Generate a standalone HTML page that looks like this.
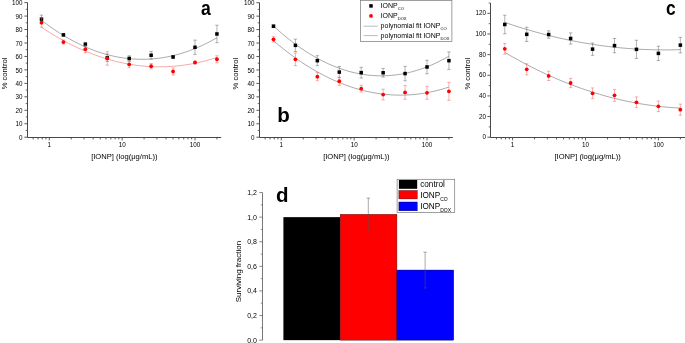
<!DOCTYPE html>
<html><head><meta charset="utf-8"><title>figure</title>
<style>
html,body{margin:0;padding:0;background:#fff;}
svg{display:block;will-change:transform;-webkit-font-smoothing:antialiased}
text{font-family:"Liberation Sans",sans-serif;fill:#000}
.t{font-size:6.3px}
.t7{font-size:7px}
.a{font-size:7.6px}
.d{font-size:8px}
.g{font-size:7px}
.s{font-size:4.1px}
.e{font-size:8.2px}
.s2{font-size:5px}
.L{font-size:20.5px;font-weight:bold;fill:#000}
</style></head><body>
<svg width="685" height="343" viewBox="0 0 685 343">
<rect width="685" height="343" fill="#fff"/>
<path d="M27.50 2.60V137.50H221.20" fill="none" stroke="#484848" stroke-width="1"/>
<path d="M27.50 137.20h-3.1M27.50 123.74h-3.1M27.50 110.28h-3.1M27.50 96.82h-3.1M27.50 83.36h-3.1M27.50 69.90h-3.1M27.50 56.44h-3.1M27.50 42.98h-3.1M27.50 29.52h-3.1M27.50 16.06h-3.1M27.50 2.60h-3.1" stroke="#484848" stroke-width="0.9" fill="none"/>
<path d="M27.50 130.47h-1.8M27.50 117.01h-1.8M27.50 103.55h-1.8M27.50 90.09h-1.8M27.50 76.63h-1.8M27.50 63.17h-1.8M27.50 49.71h-1.8M27.50 36.25h-1.8M27.50 22.79h-1.8M27.50 9.33h-1.8" stroke="#484848" stroke-width="0.8" fill="none"/>
<text x="22.40" y="139.80" text-anchor="end" class="t">0</text>
<text x="22.40" y="126.34" text-anchor="end" class="t">10</text>
<text x="22.40" y="112.88" text-anchor="end" class="t">20</text>
<text x="22.40" y="99.42" text-anchor="end" class="t">30</text>
<text x="22.40" y="85.96" text-anchor="end" class="t">40</text>
<text x="22.40" y="72.50" text-anchor="end" class="t">50</text>
<text x="22.40" y="59.04" text-anchor="end" class="t">60</text>
<text x="22.40" y="45.58" text-anchor="end" class="t">70</text>
<text x="22.40" y="32.12" text-anchor="end" class="t">80</text>
<text x="22.40" y="18.66" text-anchor="end" class="t">90</text>
<text x="22.40" y="5.20" text-anchor="end" class="t">100</text>
<path d="M49.30 137.20v3.2M122.15 137.20v3.2M195.00 137.20v3.2" stroke="#484848" stroke-width="0.9" fill="none"/>
<path d="M33.14 137.20v2.2M38.02 137.20v2.2M42.24 137.20v2.2M45.97 137.20v2.2M71.23 137.20v2.2M84.06 137.20v2.2M93.16 137.20v2.2M100.22 137.20v2.2M105.99 137.20v2.2M110.87 137.20v2.2M115.09 137.20v2.2M118.82 137.20v2.2M144.08 137.20v2.2M156.91 137.20v2.2M166.01 137.20v2.2M173.07 137.20v2.2M178.84 137.20v2.2M183.72 137.20v2.2M187.94 137.20v2.2M191.67 137.20v2.2M216.93 137.20v2.2" stroke="#484848" stroke-width="0.9" fill="none"/>
<text x="49.30" y="146.90" text-anchor="middle" class="t">1</text>
<text x="122.15" y="146.90" text-anchor="middle" class="t">10</text>
<text x="195.00" y="146.90" text-anchor="middle" class="t">100</text>
<text x="124.35" y="159.20" text-anchor="middle" class="a">[IONP] (log(μg/mL))</text>
<text transform="translate(7.40 73.50) rotate(-90)" text-anchor="middle" class="a">% control</text>
<polyline points="41.49,20.24 45.99,23.66 50.49,26.92 54.99,30.02 59.48,32.97 63.98,35.76 68.48,38.39 72.98,40.87 77.48,43.20 81.98,45.36 86.47,47.37 90.97,49.23 95.47,50.93 99.97,52.47 104.47,53.85 108.97,55.08 113.47,56.16 117.96,57.08 122.46,57.84 126.96,58.44 131.46,58.89 135.96,59.18 140.46,59.32 144.95,59.30 149.45,59.13 153.95,58.79 158.45,58.31 162.95,57.66 167.45,56.86 171.95,55.91 176.44,54.79 180.94,53.53 185.44,52.10 189.94,50.52 194.44,48.78 198.94,46.89 203.43,44.84 207.93,42.64 212.43,40.27 216.93,37.76" fill="none" stroke="#444" stroke-width="0.45"/>
<polyline points="41.49,27.23 45.99,30.19 50.49,33.03 54.99,35.76 59.48,38.37 63.98,40.87 68.48,43.26 72.98,45.53 77.48,47.68 81.98,49.72 86.47,51.65 90.97,53.46 95.47,55.15 99.97,56.73 104.47,58.20 108.97,59.55 113.47,60.78 117.96,61.90 122.46,62.91 126.96,63.80 131.46,64.57 135.96,65.23 140.46,65.78 144.95,66.21 149.45,66.52 153.95,66.72 158.45,66.81 162.95,66.78 167.45,66.64 171.95,66.38 176.44,66.00 180.94,65.52 185.44,64.91 189.94,64.19 194.44,63.36 198.94,62.41 203.43,61.35 207.93,60.17 212.43,58.88 216.93,57.47" fill="none" stroke="#f04040" stroke-width="0.45"/>
<path d="M41.49 15.12V23.19M39.79 15.12h3.4M39.79 23.19h3.4M63.42 33.83V35.98M61.72 33.83h3.4M61.72 35.98h3.4M85.35 42.31V46.34M83.65 42.31h3.4M83.65 46.34h3.4M107.28 54.15V61.42M105.58 54.15h3.4M105.58 61.42h3.4M129.21 55.77V61.15M127.51 55.77h3.4M127.51 61.15h3.4M151.14 51.46V59.00M149.44 51.46h3.4M149.44 59.00h3.4M173.07 55.63V58.32M171.37 55.63h3.4M171.37 58.32h3.4M195.00 40.15V54.42M193.30 40.15h3.4M193.30 54.42h3.4M216.93 25.21V42.71M215.23 25.21h3.4M215.23 42.71h3.4" stroke="#555" stroke-width="0.45" fill="none"/>
<rect x="39.74" y="17.41" width="3.5" height="3.5" fill="#000"/>
<rect x="61.67" y="33.15" width="3.5" height="3.5" fill="#000"/>
<rect x="83.60" y="42.58" width="3.5" height="3.5" fill="#000"/>
<rect x="105.53" y="56.04" width="3.5" height="3.5" fill="#000"/>
<rect x="127.46" y="56.71" width="3.5" height="3.5" fill="#000"/>
<rect x="149.39" y="53.48" width="3.5" height="3.5" fill="#000"/>
<rect x="171.32" y="55.23" width="3.5" height="3.5" fill="#000"/>
<rect x="193.25" y="45.54" width="3.5" height="3.5" fill="#000"/>
<rect x="215.18" y="32.21" width="3.5" height="3.5" fill="#000"/>
<path d="M41.49 18.08V27.23M39.79 18.08h3.4M39.79 27.23h3.4M63.42 40.02V44.06M61.72 40.02h3.4M61.72 44.06h3.4M85.35 45.54V52.81M83.65 45.54h3.4M83.65 52.81h3.4M107.28 51.73V65.19M105.58 51.73h3.4M105.58 65.19h3.4M129.21 61.02V67.75M127.51 61.02h3.4M127.51 67.75h3.4M151.14 63.57V68.96M149.44 63.57h3.4M149.44 68.96h3.4M173.07 68.02V75.01M171.37 68.02h3.4M171.37 75.01h3.4M195.00 61.15V63.84M193.30 61.15h3.4M193.30 63.84h3.4M216.93 55.77V62.77M215.23 55.77h3.4M215.23 62.77h3.4" stroke="#f05050" stroke-width="0.45" fill="none"/>
<circle cx="41.49" cy="22.66" r="1.9" fill="#ff0000"/>
<circle cx="63.42" cy="42.04" r="1.9" fill="#ff0000"/>
<circle cx="85.35" cy="49.17" r="1.9" fill="#ff0000"/>
<circle cx="107.28" cy="58.46" r="1.9" fill="#ff0000"/>
<circle cx="129.21" cy="64.38" r="1.9" fill="#ff0000"/>
<circle cx="151.14" cy="66.27" r="1.9" fill="#ff0000"/>
<circle cx="173.07" cy="71.52" r="1.9" fill="#ff0000"/>
<circle cx="195.00" cy="62.50" r="1.9" fill="#ff0000"/>
<circle cx="216.93" cy="59.27" r="1.9" fill="#ff0000"/>
<path d="M259.50 2.70V137.50H452.90" fill="none" stroke="#484848" stroke-width="1"/>
<path d="M259.50 137.20h-3.1M259.50 123.75h-3.1M259.50 110.30h-3.1M259.50 96.85h-3.1M259.50 83.40h-3.1M259.50 69.95h-3.1M259.50 56.50h-3.1M259.50 43.05h-3.1M259.50 29.60h-3.1M259.50 16.15h-3.1M259.50 2.70h-3.1" stroke="#484848" stroke-width="0.9" fill="none"/>
<path d="M259.50 130.47h-1.8M259.50 117.02h-1.8M259.50 103.57h-1.8M259.50 90.12h-1.8M259.50 76.67h-1.8M259.50 63.22h-1.8M259.50 49.77h-1.8M259.50 36.32h-1.8M259.50 22.87h-1.8M259.50 9.42h-1.8" stroke="#484848" stroke-width="0.8" fill="none"/>
<text x="254.40" y="139.80" text-anchor="end" class="t">0</text>
<text x="254.40" y="126.35" text-anchor="end" class="t">10</text>
<text x="254.40" y="112.90" text-anchor="end" class="t">20</text>
<text x="254.40" y="99.45" text-anchor="end" class="t">30</text>
<text x="254.40" y="86.00" text-anchor="end" class="t">40</text>
<text x="254.40" y="72.55" text-anchor="end" class="t">50</text>
<text x="254.40" y="59.10" text-anchor="end" class="t">60</text>
<text x="254.40" y="45.65" text-anchor="end" class="t">70</text>
<text x="254.40" y="32.20" text-anchor="end" class="t">80</text>
<text x="254.40" y="18.75" text-anchor="end" class="t">90</text>
<text x="254.40" y="5.30" text-anchor="end" class="t">100</text>
<path d="M281.30 137.20v3.2M354.15 137.20v3.2M427.00 137.20v3.2" stroke="#484848" stroke-width="0.9" fill="none"/>
<path d="M265.14 137.20v2.2M270.02 137.20v2.2M274.24 137.20v2.2M277.97 137.20v2.2M303.23 137.20v2.2M316.06 137.20v2.2M325.16 137.20v2.2M332.22 137.20v2.2M337.99 137.20v2.2M342.87 137.20v2.2M347.09 137.20v2.2M350.82 137.20v2.2M376.08 137.20v2.2M388.91 137.20v2.2M398.01 137.20v2.2M405.07 137.20v2.2M410.84 137.20v2.2M415.72 137.20v2.2M419.94 137.20v2.2M423.67 137.20v2.2M448.93 137.20v2.2" stroke="#484848" stroke-width="0.9" fill="none"/>
<text x="281.30" y="146.90" text-anchor="middle" class="t">1</text>
<text x="354.15" y="146.90" text-anchor="middle" class="t">10</text>
<text x="427.00" y="146.90" text-anchor="middle" class="t">100</text>
<text x="356.35" y="159.20" text-anchor="middle" class="a">[IONP] (log(μg/mL))</text>
<text transform="translate(238.40 73.55) rotate(-90)" text-anchor="middle" class="a">% control</text>
<polyline points="273.49,26.01 277.99,30.08 282.49,33.98 286.99,37.71 291.48,41.26 295.98,44.64 300.48,47.84 304.98,50.87 309.48,53.73 313.98,56.41 318.47,58.92 322.97,61.26 327.47,63.42 331.97,65.41 336.47,67.22 340.97,68.87 345.47,70.33 349.96,71.63 354.46,72.75 358.96,73.70 363.46,74.47 367.96,75.07 372.46,75.49 376.95,75.75 381.45,75.82 385.95,75.73 390.45,75.46 394.95,75.02 399.45,74.40 403.95,73.61 408.44,72.65 412.94,71.51 417.44,70.20 421.94,68.72 426.44,67.06 430.94,65.23 435.43,63.22 439.93,61.04 444.43,58.69 448.93,56.17" fill="none" stroke="#444" stroke-width="0.45"/>
<polyline points="273.49,40.76 277.99,44.55 282.49,48.21 286.99,51.73 291.48,55.11 295.98,58.36 300.48,61.47 304.98,64.44 309.48,67.27 313.98,69.97 318.47,72.52 322.97,74.95 327.47,77.23 331.97,79.38 336.47,81.39 340.97,83.26 345.47,85.00 349.96,86.60 354.46,88.06 358.96,89.39 363.46,90.57 367.96,91.62 372.46,92.54 376.95,93.31 381.45,93.95 385.95,94.45 390.45,94.82 394.95,95.05 399.45,95.14 403.95,95.09 408.44,94.91 412.94,94.59 417.44,94.13 421.94,93.53 426.44,92.80 430.94,91.93 435.43,90.92 439.93,89.78 444.43,88.50 448.93,87.08" fill="none" stroke="#444" stroke-width="0.45"/>
<path d="M273.49 24.89V27.58M271.79 24.89h3.4M271.79 27.58h3.4M295.42 39.15V51.52M293.72 39.15h3.4M293.72 51.52h3.4M317.35 55.69V65.65M315.65 55.69h3.4M315.65 65.65h3.4M339.28 66.45V77.75M337.58 66.45h3.4M337.58 77.75h3.4M361.21 67.26V78.02M359.51 67.26h3.4M359.51 78.02h3.4M383.14 68.47V77.08M381.44 68.47h3.4M381.44 77.08h3.4M405.07 66.32V80.84M403.37 66.32h3.4M403.37 80.84h3.4M427.00 60.27V73.72M425.30 60.27h3.4M425.30 73.72h3.4M448.93 51.93V69.41M447.23 51.93h3.4M447.23 69.41h3.4" stroke="#555" stroke-width="0.45" fill="none"/>
<rect x="271.74" y="24.49" width="3.5" height="3.5" fill="#000"/>
<rect x="293.67" y="43.59" width="3.5" height="3.5" fill="#000"/>
<rect x="315.60" y="58.92" width="3.5" height="3.5" fill="#000"/>
<rect x="337.53" y="70.35" width="3.5" height="3.5" fill="#000"/>
<rect x="359.46" y="70.89" width="3.5" height="3.5" fill="#000"/>
<rect x="381.39" y="71.02" width="3.5" height="3.5" fill="#000"/>
<rect x="403.32" y="71.83" width="3.5" height="3.5" fill="#000"/>
<rect x="425.25" y="65.24" width="3.5" height="3.5" fill="#000"/>
<rect x="447.18" y="58.92" width="3.5" height="3.5" fill="#000"/>
<path d="M273.49 36.59V41.97M271.79 36.59h3.4M271.79 41.97h3.4M295.42 53.00V65.65M293.72 53.00h3.4M293.72 65.65h3.4M317.35 72.64V80.71M315.65 72.64h3.4M315.65 80.71h3.4M339.28 77.21V85.28M337.58 77.21h3.4M337.58 85.28h3.4M361.21 85.28V92.01M359.51 85.28h3.4M359.51 92.01h3.4M383.14 89.18V99.94M381.44 89.18h3.4M381.44 99.94h3.4M405.07 85.55V99.27M403.37 85.55h3.4M403.37 99.27h3.4M427.00 86.36V99.27M425.30 86.36h3.4M425.30 99.27h3.4M448.93 82.32V100.35M447.23 82.32h3.4M447.23 100.35h3.4" stroke="#f05050" stroke-width="0.45" fill="none"/>
<circle cx="273.49" cy="39.28" r="1.9" fill="#ff0000"/>
<circle cx="295.42" cy="59.32" r="1.9" fill="#ff0000"/>
<circle cx="317.35" cy="76.67" r="1.9" fill="#ff0000"/>
<circle cx="339.28" cy="81.25" r="1.9" fill="#ff0000"/>
<circle cx="361.21" cy="88.65" r="1.9" fill="#ff0000"/>
<circle cx="383.14" cy="94.56" r="1.9" fill="#ff0000"/>
<circle cx="405.07" cy="92.41" r="1.9" fill="#ff0000"/>
<circle cx="427.00" cy="92.81" r="1.9" fill="#ff0000"/>
<circle cx="448.93" cy="91.34" r="1.9" fill="#ff0000"/>
<path d="M490.50 3.04V137.50H686.00" fill="none" stroke="#484848" stroke-width="1"/>
<path d="M490.50 137.20h-3.1M490.50 116.56h-3.1M490.50 95.92h-3.1M490.50 75.28h-3.1M490.50 54.64h-3.1M490.50 34.00h-3.1M490.50 13.36h-3.1" stroke="#484848" stroke-width="0.9" fill="none"/>
<path d="M490.50 126.88h-1.8M490.50 106.24h-1.8M490.50 85.60h-1.8M490.50 64.96h-1.8M490.50 44.32h-1.8M490.50 23.68h-1.8M490.50 3.04h-1.8" stroke="#484848" stroke-width="0.8" fill="none"/>
<text x="485.90" y="139.30" text-anchor="end" class="t">0</text>
<text x="485.90" y="118.66" text-anchor="end" class="t">20</text>
<text x="485.90" y="98.02" text-anchor="end" class="t">40</text>
<text x="485.90" y="77.38" text-anchor="end" class="t">60</text>
<text x="485.90" y="56.74" text-anchor="end" class="t">80</text>
<text x="485.90" y="36.10" text-anchor="end" class="t">100</text>
<text x="485.90" y="15.46" text-anchor="end" class="t">120</text>
<path d="M512.60 137.20v3.2M585.50 137.20v3.2M658.40 137.20v3.2" stroke="#484848" stroke-width="0.9" fill="none"/>
<path d="M496.43 137.20v2.2M501.31 137.20v2.2M505.54 137.20v2.2M509.26 137.20v2.2M534.55 137.20v2.2M547.38 137.20v2.2M556.49 137.20v2.2M563.55 137.20v2.2M569.33 137.20v2.2M574.21 137.20v2.2M578.44 137.20v2.2M582.16 137.20v2.2M607.45 137.20v2.2M620.28 137.20v2.2M629.39 137.20v2.2M636.45 137.20v2.2M642.23 137.20v2.2M647.11 137.20v2.2M651.34 137.20v2.2M655.06 137.20v2.2M680.35 137.20v2.2" stroke="#484848" stroke-width="0.9" fill="none"/>
<text x="512.60" y="146.90" text-anchor="middle" class="t">1</text>
<text x="585.50" y="146.90" text-anchor="middle" class="t">10</text>
<text x="658.40" y="146.90" text-anchor="middle" class="t">100</text>
<text x="587.70" y="159.20" text-anchor="middle" class="a">[IONP] (log(μg/mL))</text>
<text transform="translate(469.60 73.72) rotate(-90)" text-anchor="middle" class="a">% control</text>
<polyline points="504.78,22.42 509.29,23.94 513.79,25.43 518.29,26.87 522.79,28.27 527.29,29.62 531.79,30.93 536.30,32.20 540.80,33.42 545.30,34.60 549.80,35.73 554.30,36.82 558.80,37.87 563.30,38.88 567.81,39.84 572.31,40.75 576.81,41.62 581.31,42.45 585.81,43.24 590.31,43.98 594.82,44.68 599.32,45.33 603.82,45.94 608.32,46.51 612.82,47.03 617.32,47.51 621.82,47.95 626.33,48.34 630.83,48.69 635.33,48.99 639.83,49.25 644.33,49.47 648.83,49.64 653.34,49.77 657.84,49.86 662.34,49.90 666.84,49.90 671.34,49.85 675.84,49.76 680.35,49.63" fill="none" stroke="#444" stroke-width="0.45"/>
<polyline points="504.78,52.42 509.29,55.04 513.79,57.59 518.29,60.09 522.79,62.52 527.29,64.88 531.79,67.19 536.30,69.43 540.80,71.61 545.30,73.72 549.80,75.77 554.30,77.76 558.80,79.69 563.30,81.56 567.81,83.36 572.31,85.10 576.81,86.78 581.31,88.39 585.81,89.94 590.31,91.43 594.82,92.86 599.32,94.22 603.82,95.53 608.32,96.76 612.82,97.94 617.32,99.05 621.82,100.10 626.33,101.09 630.83,102.02 635.33,102.88 639.83,103.68 644.33,104.42 648.83,105.09 653.34,105.71 657.84,106.26 662.34,106.74 666.84,107.17 671.34,107.53 675.84,107.83 680.35,108.06" fill="none" stroke="#444" stroke-width="0.45"/>
<path d="M504.78 15.20V33.78M503.08 15.20h3.4M503.08 33.78h3.4M526.73 27.21V41.45M525.03 27.21h3.4M525.03 41.45h3.4M548.67 30.82V38.25M546.97 30.82h3.4M546.97 38.25h3.4M570.62 32.90V44.05M568.92 32.90h3.4M568.92 44.05h3.4M592.56 42.96V55.34M590.86 42.96h3.4M590.86 55.34h3.4M614.51 38.50V52.75M612.81 38.50h3.4M612.81 52.75h3.4M636.45 40.27V58.44M634.75 40.27h3.4M634.75 58.44h3.4M658.40 46.27V60.52M656.70 46.27h3.4M656.70 60.52h3.4M680.35 37.37V52.85M678.65 37.37h3.4M678.65 52.85h3.4" stroke="#555" stroke-width="0.45" fill="none"/>
<rect x="503.03" y="22.74" width="3.5" height="3.5" fill="#000"/>
<rect x="524.98" y="32.58" width="3.5" height="3.5" fill="#000"/>
<rect x="546.92" y="32.79" width="3.5" height="3.5" fill="#000"/>
<rect x="568.87" y="36.73" width="3.5" height="3.5" fill="#000"/>
<rect x="590.81" y="47.40" width="3.5" height="3.5" fill="#000"/>
<rect x="612.76" y="43.87" width="3.5" height="3.5" fill="#000"/>
<rect x="634.70" y="47.60" width="3.5" height="3.5" fill="#000"/>
<rect x="656.65" y="51.64" width="3.5" height="3.5" fill="#000"/>
<rect x="678.60" y="43.36" width="3.5" height="3.5" fill="#000"/>
<path d="M504.78 43.47V54.20M503.08 43.47h3.4M503.08 54.20h3.4M526.73 63.78V74.92M525.03 63.78h3.4M525.03 74.92h3.4M548.67 71.23V80.52M546.97 71.23h3.4M546.97 80.52h3.4M570.62 78.38V87.67M568.92 78.38h3.4M568.92 87.67h3.4M592.56 87.91V98.65M590.86 87.91h3.4M590.86 98.65h3.4M614.51 89.37V101.34M612.81 89.37h3.4M612.81 101.34h3.4M636.45 96.93V107.66M634.75 96.93h3.4M634.75 107.66h3.4M658.40 101.07V111.60M656.70 101.07h3.4M656.70 111.60h3.4M680.35 104.08V115.22M678.65 104.08h3.4M678.65 115.22h3.4" stroke="#f05050" stroke-width="0.45" fill="none"/>
<circle cx="504.78" cy="48.84" r="1.9" fill="#ff0000"/>
<circle cx="526.73" cy="69.35" r="1.9" fill="#ff0000"/>
<circle cx="548.67" cy="75.88" r="1.9" fill="#ff0000"/>
<circle cx="570.62" cy="83.02" r="1.9" fill="#ff0000"/>
<circle cx="592.56" cy="93.28" r="1.9" fill="#ff0000"/>
<circle cx="614.51" cy="95.35" r="1.9" fill="#ff0000"/>
<circle cx="636.45" cy="102.29" r="1.9" fill="#ff0000"/>
<circle cx="658.40" cy="106.33" r="1.9" fill="#ff0000"/>
<circle cx="680.35" cy="109.65" r="1.9" fill="#ff0000"/>
<text transform="translate(206.0 14.7) scale(0.86 1)" text-anchor="middle" class="L">a</text>
<text transform="translate(283.5 122.4) scale(1.0 1)" text-anchor="middle" class="L">b</text>
<text transform="translate(670.9 14.5) scale(0.85 1)" text-anchor="middle" class="L">c</text>
<text transform="translate(282.3 202.1) scale(1.0 1)" text-anchor="middle" class="L">d</text>
<rect x="360.4" y="0.6" width="91.5" height="40.9" fill="#fff" stroke="#777" stroke-width="0.7"/>
<rect x="369.25" y="4.15" width="3.5" height="3.5" fill="#000"/>
<circle cx="371" cy="15.9" r="1.9" fill="#ff0000"/>
<path d="M363.6 26.2h14M363.6 35.6h14" stroke="#777" stroke-width="0.5"/>
<text x="380.6" y="8.2" class="g">IONP<tspan class="s" dy="1.9">CO</tspan></text>
<text x="380.6" y="18.2" class="g">IONP<tspan class="s" dy="1.9">DOX</tspan></text>
<text x="380.6" y="28.4" class="g">polynomial fit IONP<tspan class="s" dy="1.9">CO</tspan></text>
<text x="380.6" y="37.9" class="g">polynomial fit IONP<tspan class="s" dy="1.9">DOX</tspan></text>
<path d="M262.5 192.55V340.15" stroke="#555" stroke-width="0.8" fill="none"/>
<path d="M262.5 340.15h-3.2M262.5 315.55h-3.2M262.5 290.95h-3.2M262.5 266.35h-3.2M262.5 241.75h-3.2M262.5 217.15h-3.2M262.5 192.55h-3.2" stroke="#555" stroke-width="0.7" fill="none"/>
<path d="M262.5 327.85h-1.8M262.5 303.25h-1.8M262.5 278.65h-1.8M262.5 254.05h-1.8M262.5 229.45h-1.8M262.5 204.85h-1.8" stroke="#555" stroke-width="0.6" fill="none"/>
<text x="256.90" y="342.65" text-anchor="end" class="t7">0,0</text>
<text x="256.90" y="318.05" text-anchor="end" class="t7">0,2</text>
<text x="256.90" y="293.45" text-anchor="end" class="t7">0,4</text>
<text x="256.90" y="268.85" text-anchor="end" class="t7">0,6</text>
<text x="256.90" y="244.25" text-anchor="end" class="t7">0,8</text>
<text x="256.90" y="219.65" text-anchor="end" class="t7">1,0</text>
<text x="256.90" y="195.05" text-anchor="end" class="t7">1,2</text>
<text transform="translate(241.4 271.6) rotate(-90)" text-anchor="middle" class="d">Surviving fraction</text>
<rect x="283.4" y="217.15" width="56.8" height="123.00" fill="#000"/>
<rect x="340.2" y="214.32" width="56.7" height="125.83" fill="#ff0000" stroke="#400" stroke-width="0.4"/>
<rect x="396.9" y="270.04" width="56.8" height="70.11" fill="#0000ff" stroke="#004" stroke-width="0.4"/>
<path d="M368.3 198.1V230.9M366.6 198.1h3.4M366.6 230.9h3.4" stroke="#555" stroke-width="0.5" fill="none"/>
<path d="M425.1 252.2V288M423.4 252.2h3.4M423.4 288h3.4" stroke="#555" stroke-width="0.5" fill="none"/>
<rect x="397.1" y="179.3" width="57.6" height="33.3" fill="#fff" stroke="#777" stroke-width="0.7"/>
<rect x="398.9" y="180" width="18.3" height="8.8" fill="#000"/>
<rect x="398.9" y="190.5" width="18.3" height="8.4" fill="#ff0000" stroke="#300" stroke-width="0.4"/>
<rect x="398.9" y="202" width="18.3" height="8.8" fill="#0000ff" stroke="#003" stroke-width="0.4"/>
<text x="420.2" y="187.3" class="e">control</text>
<text x="420.2" y="197.6" class="e">IONP<tspan class="s2" dy="2.9">CO</tspan></text>
<text x="420.2" y="209.3" class="e">IONP<tspan class="s2" dy="2.9">DOX</tspan></text>
</svg>
</body></html>
